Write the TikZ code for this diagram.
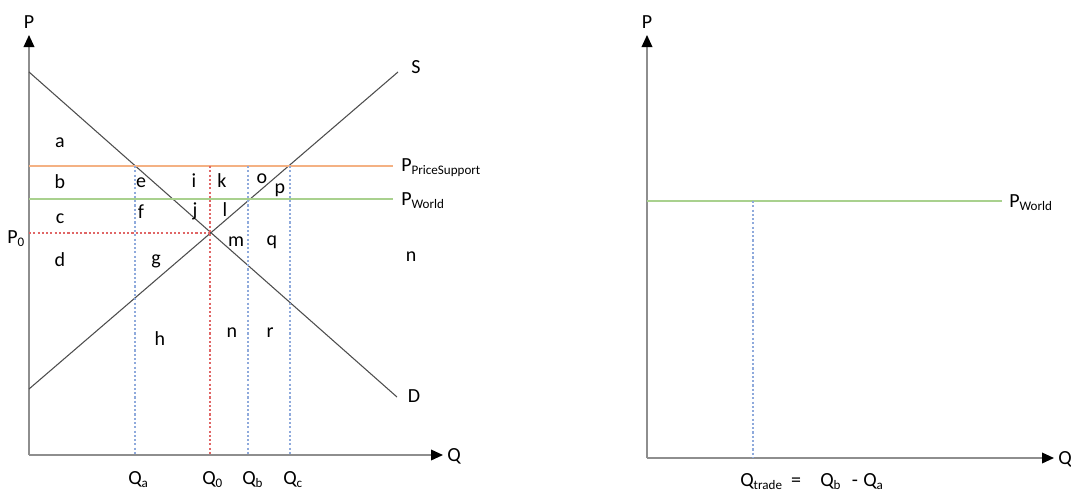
\documentclass[tikz,border=0pt]{standalone}
\usepackage{fontspec}
\setmainfont{Carlito}
\usetikzlibrary{arrows.meta}
\definecolor{axisgray}{HTML}{8E8E8E}
\definecolor{curvegray}{HTML}{4D4D4D}
\definecolor{psorange}{HTML}{F4B183}
\definecolor{pwgreen}{HTML}{A9D18E}
\definecolor{dashred}{HTML}{E06666}
\definecolor{dashblue}{HTML}{8FAADC}
\newcommand\subtx[1]{\raisebox{-2.8pt}{\fontsize{9.8}{9.8}\selectfont #1}}
\begin{document}
\begin{tikzpicture}[x=0.75pt,y=-0.75pt,
  lbl/.style={font=\fontsize{15}{15}\selectfont, inner sep=0pt},
  axis/.style={axisgray, line width=1.1pt, -{Triangle[length=9pt,width=8pt,color=black,fill=black]}},
  curve/.style={curvegray, line width=0.8pt},
  dashline/.style={line width=0.8pt, dash pattern=on 1.6pt off 1.6pt},
]
\useasboundingbox (0,0) rectangle (1071,493);

% ---------- left panel ----------
\coordinate (O1) at (29,455);
\coordinate (Ptop1) at (29,35);
\coordinate (Qend1) at (443,455);
\draw[axis] (O1) -- (Ptop1);
\draw[axis] (O1) -- (Qend1);
\node[lbl, anchor=base] (P1) at (29,28) {P};
\node[lbl, anchor=base west] (Q1) at (447,461) {Q};

% curves
\coordinate (D0) at (29,72);
\coordinate (D1) at (397,397);
\coordinate (S0) at (29,389);
\coordinate (S1) at (398,72);
\draw[curve] (D0) -- (D1);
\draw[curve] (S0) -- (S1);
\node[lbl] (Dl) at (414,396) {D};
\node[lbl] (Sl) at (416,67) {S};

% price lines
\coordinate (PS0) at (29,166);
\coordinate (PS1) at (393,166);
\coordinate (PW0) at (29,199);
\coordinate (PW1) at (393,199);
\draw[psorange, line width=1pt] (PS0) -- (PS1);
\draw[pwgreen, line width=1pt] (PW0) -- (PW1);
\node[lbl, anchor=base west] (PSl) at (401,171) {P\subtx{PriceSupport}};
\node[lbl, anchor=base west] (PWl) at (401,205) {P\subtx{World}};

% P0
\coordinate (P0a) at (29,233);
\coordinate (E) at (210,233);
\draw[dashline, dashred] (P0a) -- (E);
\node[lbl, anchor=base west] (P0l) at (7,243) {P\subtx{0}};

% vertical dashed
\coordinate (Qa0) at (135,166); \coordinate (Qa1) at (135,455);
\coordinate (Q00) at (210,166); \coordinate (Q01) at (210,455);
\coordinate (Qb0) at (248,166); \coordinate (Qb1) at (248,455);
\coordinate (Qc0) at (290,166); \coordinate (Qc1) at (290,455);
\draw[dashline, dashblue] (Qa0) -- (Qa1);
\draw[dashline, dashred] (Q00) -- (Q01);
\draw[dashline, dashblue] (Qb0) -- (Qb1);
\draw[dashline, dashblue] (Qc0) -- (Qc1);
\node[lbl, anchor=base west] (Qal) at (128,484) {Q\subtx{a}};
\node[lbl, anchor=base west] (Q0l) at (202,484) {Q\subtx{0}};
\node[lbl, anchor=base west] (Qbl) at (242,484) {Q\subtx{b}};
\node[lbl, anchor=base west] (Qcl) at (283,484) {Q\subtx{c}};

% area letters
\node[lbl] (la) at (60,143) {a};
\node[lbl] (lb) at (60,182) {b};
\node[lbl] (lc) at (60,219) {c};
\node[lbl] (ld) at (60,260) {d};
\node[lbl] (le) at (141,183) {e};
\node[lbl] (lf) at (141,212) {f};
\node[lbl] (lg) at (156,261) {g};
\node[lbl] (lh) at (160,339) {h};
\node[lbl] (li) at (194,181) {i};
\node[lbl] (lj) at (195,211) {j};
\node[lbl] (lk) at (222,181) {k};
\node[lbl] (ll) at (225,210) {l};
\node[lbl] (lm) at (236,242) {m};
\node[lbl] (ln) at (232,333) {n};
\node[lbl] (lo) at (262,179) {o};
\node[lbl] (lp) at (280,190) {p};
\node[lbl] (lq) at (272,242) {q};
\node[lbl] (lr) at (270,333) {r};
\node[lbl] (ln2) at (411,257) {n};

% ---------- right panel ----------
\coordinate (O2) at (647,458);
\coordinate (Ptop2) at (647,35);
\coordinate (Qend2) at (1054,458);
\draw[axis] (O2) -- (Ptop2);
\draw[axis] (O2) -- (Qend2);
\node[lbl, anchor=base] (P2) at (647,28) {P};
\node[lbl, anchor=base west] (Q2) at (1058,464) {Q};

\coordinate (RW0) at (647,201);
\coordinate (RW1) at (1002,201);
\draw[pwgreen, line width=1pt] (RW0) -- (RW1);
\node[lbl, anchor=base west] (RWl) at (1009,207) {P\subtx{World}};

\coordinate (T0) at (753,201);
\coordinate (T1) at (753,458);
\draw[dashline, dashblue] (T0) -- (T1);

\node[lbl, anchor=base west] (Qt) at (740,486) {Q\subtx{trade}};
\node[lbl, anchor=base] (eq) at (796,486) {=};
\node[lbl, anchor=base west] (Qbt) at (820,486) {Q\subtx{b}};
\node[lbl, anchor=base] (mi) at (855,486) {-};
\node[lbl, anchor=base west] (Qat) at (863,486) {Q\subtx{a}};
\end{tikzpicture}
\end{document}
